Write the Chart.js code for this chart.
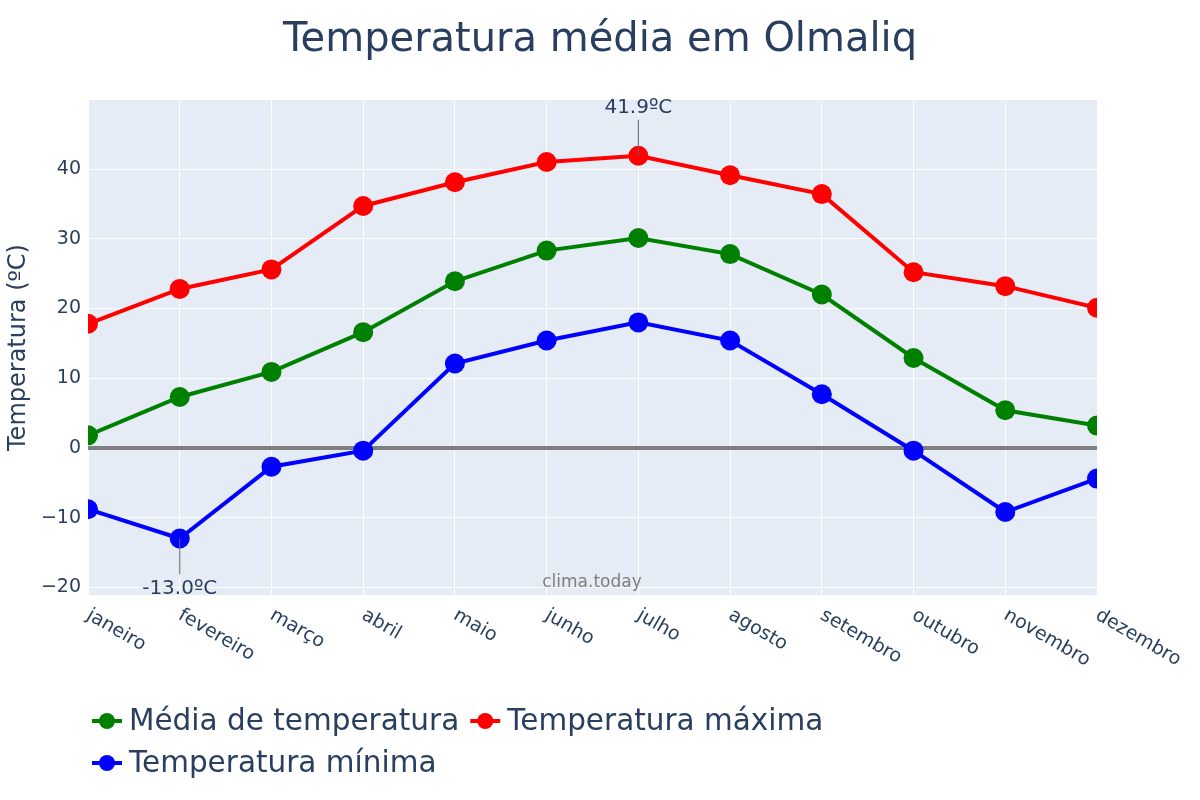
<!DOCTYPE html>
<html>
<head>
<meta charset="utf-8">
<script src="https://cdn.jsdelivr.net/npm/chart.js@4/dist/chart.umd.min.js"></script>
<style>
  body { margin: 0; background: #fff; }
  #wrap { width: 1200px; height: 800px; }
</style>
</head>
<body>
<div id="wrap"><canvas id="tempChart" width="1200" height="800"></canvas></div>
<script>
const months = ['janeiro', 'fevereiro', 'março', 'abril', 'maio', 'junho', 'julho', 'agosto', 'setembro', 'outubro', 'novembro', 'dezembro'];
const meanTemp = [1.8, 7.3, 10.9, 16.6, 23.9, 28.3, 30.1, 27.8, 22.0, 12.9, 5.4, 3.2];
const maxTemp = [17.8, 22.8, 25.6, 34.7, 38.1, 41.0, 41.9, 39.1, 36.4, 25.2, 23.2, 20.1];
const minTemp = [-8.8, -13.0, -2.7, -0.4, 12.1, 15.4, 18.0, 15.4, 7.7, -0.4, -9.2, -4.4];
const yTicks = [-20, -10, 0, 10, 20, 30, 40];

const FONT = '"DejaVu Sans", Verdana, sans-serif';
const TEXT = '#2a3f5f';

// title, x labels, annotations, watermark and legend
const extras = {
    id: 'extras',
    beforeDraw(chart) {
        const { ctx, chartArea } = chart;
        ctx.save();
        ctx.fillStyle = '#e5ecf6';
        ctx.fillRect(chartArea.left, chartArea.top, chartArea.right - chartArea.left, chartArea.bottom - chartArea.top);
        ctx.restore();
    },
    afterDraw(chart) {
        const { ctx, chartArea, scales } = chart;
        ctx.save();

        // title
        ctx.fillStyle = TEXT;
        ctx.font = '40px ' + FONT;
        ctx.textAlign = 'center';
        ctx.textBaseline = 'alphabetic';
        ctx.fillText('Temperatura média em Olmaliq', 600, 51);

        // rotated month labels
        ctx.font = '19px ' + FONT;
        ctx.textAlign = 'left';
        ctx.textBaseline = 'middle';
        months.forEach((m, i) => {
            const x = scales.x.getPixelForValue(i);
            ctx.save();
            ctx.translate(x, chartArea.bottom + 19);
            ctx.rotate(Math.PI / 6);
            ctx.fillText(m, 0, 0);
            ctx.restore();
        });

        // watermark
        ctx.fillStyle = 'rgba(100,100,100,0.8)';
        ctx.font = '17px ' + FONT;
        ctx.textAlign = 'center';
        ctx.fillText('clima.today', 592, 583);

        // annotations for extremes
        const iMax = maxTemp.indexOf(Math.max(...maxTemp));
        const iMin = minTemp.indexOf(Math.min(...minTemp));
        ctx.strokeStyle = '#666';
        ctx.lineWidth = 1;
        ctx.fillStyle = TEXT;
        ctx.font = '20px ' + FONT;
        let px = scales.x.getPixelForValue(iMax);
        let py = scales.y.getPixelForValue(maxTemp[iMax]);
        ctx.beginPath(); ctx.moveTo(px, py); ctx.lineTo(px, py - 36); ctx.stroke();
        ctx.fillText(maxTemp[iMax].toFixed(1) + 'ºC', px, py - 48);
        px = scales.x.getPixelForValue(iMin);
        py = scales.y.getPixelForValue(minTemp[iMin]);
        ctx.beginPath(); ctx.moveTo(px, py); ctx.lineTo(px, py + 36); ctx.stroke();
        ctx.fillText(minTemp[iMin].toFixed(1) + 'ºC', px, py + 50);

        // legend
        const rows = [[0, 1], [2]];
        ctx.font = '29.5px ' + FONT;
        ctx.textAlign = 'left';
        rows.forEach((row, r) => {
            let x = 92;
            const y = 721 + r * 42;
            row.forEach(di => {
                const ds = chart.data.datasets[di];
                ctx.strokeStyle = ds.borderColor;
                ctx.fillStyle = ds.borderColor;
                ctx.lineWidth = 4;
                ctx.beginPath(); ctx.moveTo(x, y); ctx.lineTo(x + 30, y); ctx.stroke();
                ctx.beginPath(); ctx.arc(x + 15, y, 8, 0, Math.PI * 2); ctx.fill();
                ctx.fillStyle = TEXT;
                ctx.fillText(ds.label, x + 37, y + 1);
                x += 37 + ctx.measureText(ds.label).width + 11;
            });
        });
        ctx.restore();
    }
};

function series(label, data, color) {
    return {
        label: label,
        data: data,
        borderColor: color,
        backgroundColor: color,
        borderWidth: 4,
        pointRadius: 10,
        pointHoverRadius: 10,
        pointBorderWidth: 0,
        tension: 0,
        clip: 0
    };
}

new Chart(document.getElementById('tempChart'), {
    type: 'line',
    data: {
        labels: months,
        datasets: [
            series('Média de temperatura', meanTemp, '#008000'),
            series('Temperatura máxima', maxTemp, '#ff0000'),
            series('Temperatura mínima', minTemp, '#0000ff')
        ]
    },
    options: {
        responsive: false,
        animation: false,
        layout: { padding: { top: 100, right: 103, left: 0, bottom: 0 } },
        plugins: {
            legend: { display: false },
            title: { display: false },
            tooltip: { enabled: false }
        },
        scales: {
            x: {
                type: 'category',
                offset: false,
                border: { display: false },
                grid: { color: '#ffffff', lineWidth: 1, drawTicks: false },
                ticks: { display: false },
                afterFit(scale) { scale.height = 205; }
            },
            y: {
                min: -21.1,
                max: 49.9,
                border: { display: false },
                afterBuildTicks(scale) {
                    scale.ticks = yTicks.map(v => ({ value: v }));
                },
                grid: {
                    drawTicks: false,
                    color: ctx => (ctx.tick && ctx.tick.value === 0) ? '#7f7f7f' : '#ffffff',
                    lineWidth: ctx => (ctx.tick && ctx.tick.value === 0) ? 4 : 1
                },
                ticks: {
                    padding: 7,
                    color: TEXT,
                    font: { family: FONT, size: 19 },
                    callback: v => (v < 0 ? '\u2212' + Math.abs(v) : String(v))
                },
                title: {
                    display: true,
                    text: 'Temperatura (ºC)',
                    color: TEXT,
                    font: { family: FONT, size: 24 },
                    padding: { top: 4, bottom: 0 }
                },
                afterFit(scale) { scale.width = 88; }
            }
        }
    },
    plugins: [extras]
});
</script>
</body>
</html>
